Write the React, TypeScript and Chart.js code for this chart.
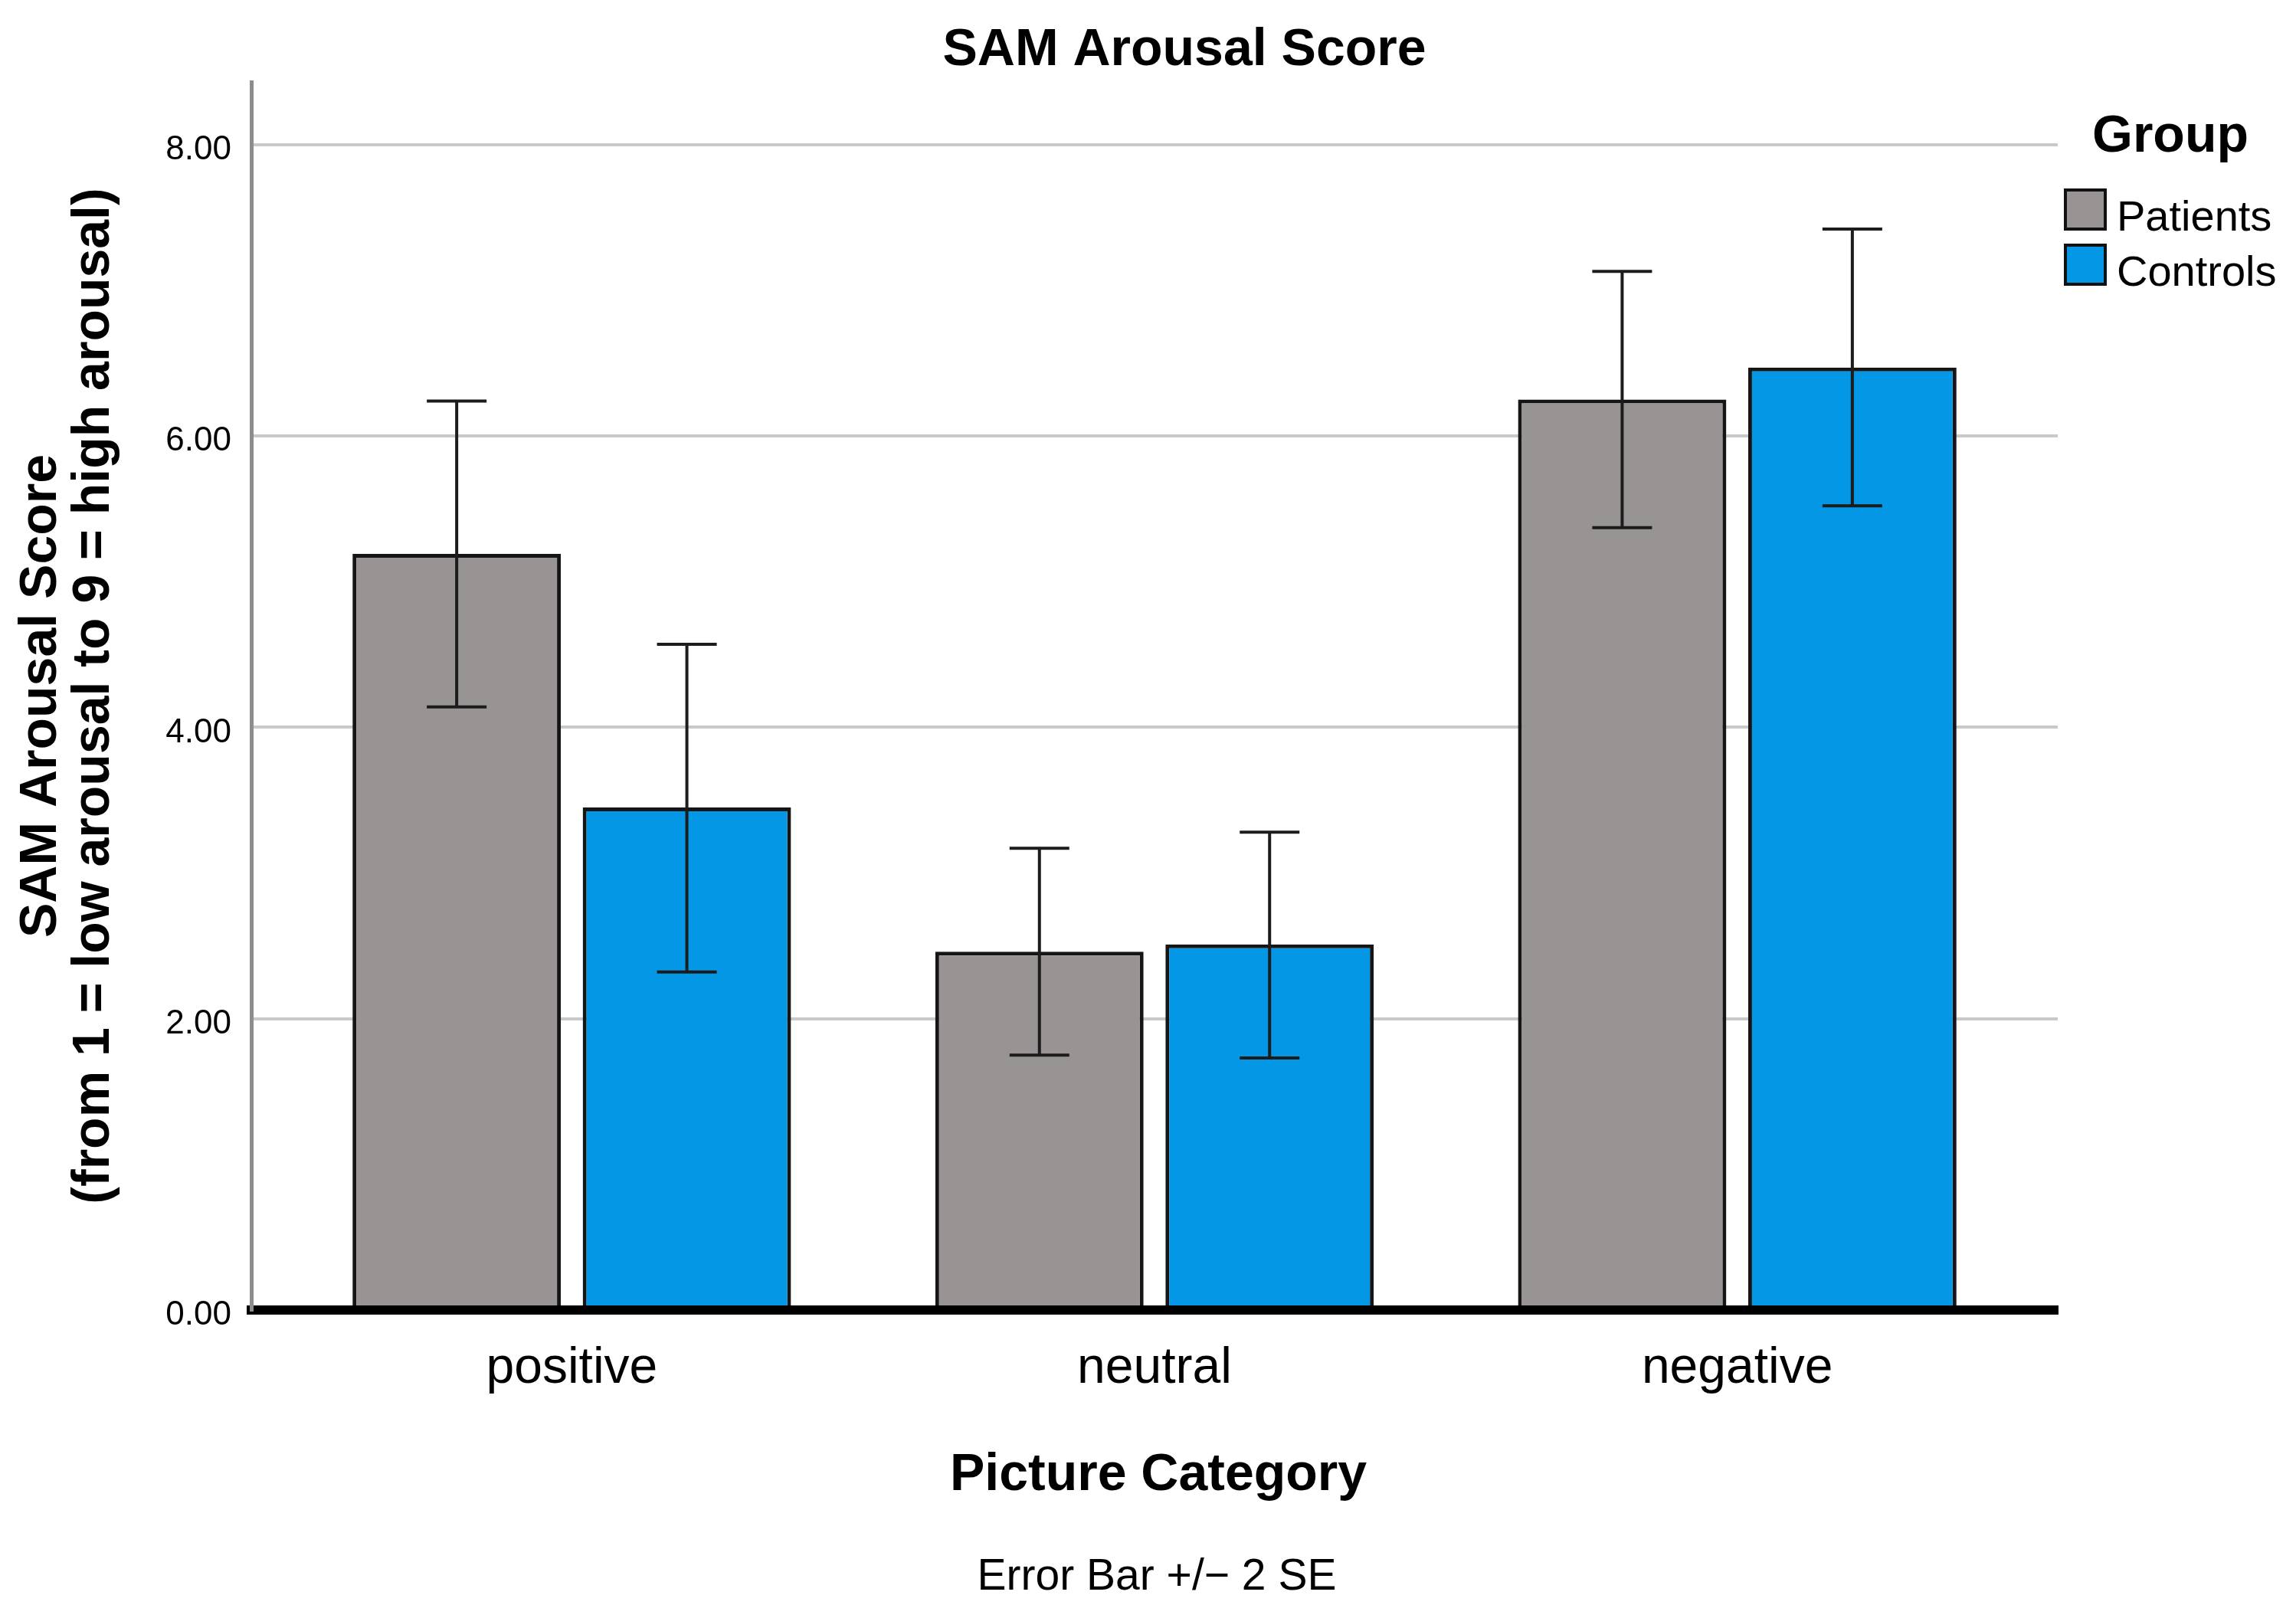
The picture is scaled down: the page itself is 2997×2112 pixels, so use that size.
import React, { useEffect, useRef } from 'react';
import { Chart, registerables } from 'chart.js';

Chart.register(...registerables);

// ---- data ----
const categories = ['positive', 'neutral', 'negative'];
const groups = ['Patients', 'Controls'];
const patientsMean = [5.19, 2.46, 6.25];
const patientsLow = [4.14, 1.75, 5.37];
const patientsHigh = [6.24, 3.17, 7.13];
const controlsMean = [3.45, 2.51, 6.47];
const controlsLow = [2.32, 1.73, 5.52];
const controlsHigh = [4.57, 3.28, 7.42];
const yTicks = [0, 2, 4, 6, 8];

const chartTitle = 'SAM Arousal Score';
const yTitleLines = ['SAM Arousal Score', '(from 1 = low arousal to 9 = high arousal)'];
const xTitle = 'Picture Category';
const footnote = 'Error Bar +/\u2212 2 SE';
const legendTitle = 'Group';

const FF = "Arial, 'Liberation Sans', Helvetica, sans-serif";
const W = 2997;
const H = 2112;

const errorLows = [patientsLow, controlsLow];
const errorHighs = [patientsHigh, controlsHigh];

const errorBarPlugin = {
  id: 'errorBars',
  afterDatasetsDraw(chart: any) {
    const ctx = chart.ctx;
    const yScale = chart.scales.y;
    ctx.save();
    ctx.strokeStyle = '#1c1c1c';
    ctx.lineWidth = 4;
    chart.data.datasets.forEach((ds: any, di: number) => {
      const meta = chart.getDatasetMeta(di);
      meta.data.forEach((bar: any, i: number) => {
        const x = bar.x;
        const yl = yScale.getPixelForValue(errorLows[di][i]);
        const yh = yScale.getPixelForValue(errorHighs[di][i]);
        const cap = 39;
        ctx.beginPath();
        ctx.moveTo(x, yl);
        ctx.lineTo(x, yh);
        ctx.moveTo(x - cap, yh);
        ctx.lineTo(x + cap, yh);
        ctx.moveTo(x - cap, yl);
        ctx.lineTo(x + cap, yl);
        ctx.stroke();
      });
    });
    ctx.restore();
  },
};

const textPlugin = {
  id: 'outerTexts',
  afterDraw(chart: any) {
    const ctx = chart.ctx;
    const area = chart.chartArea;
    ctx.save();
    ctx.fillStyle = '#000';
    ctx.textBaseline = 'alphabetic';

    // chart title
    ctx.font = `bold 68px ${FF}`;
    ctx.textAlign = 'center';
    ctx.fillText(chartTitle, 1546, 85);

    // x axis title & footnote
    ctx.font = `bold 68px ${FF}`;
    ctx.fillText(xTitle, 1512, 1945);
    ctx.font = `57px ${FF}`;
    ctx.fillText(footnote, 1510, 2075);

    // y axis title (rotated)
    const cy = (area.top + area.bottom) / 2;
    ctx.save();
    ctx.translate(73, cy);
    ctx.rotate(-Math.PI / 2);
    ctx.font = `bold 68px ${FF}`;
    ctx.fillText(yTitleLines[0], 0, 0);
    ctx.restore();
    ctx.save();
    ctx.translate(142, cy);
    ctx.rotate(-Math.PI / 2);
    ctx.font = `bold 68px ${FF}`;
    ctx.fillText(yTitleLines[1], 0, 0);
    ctx.restore();

    // legend
    ctx.font = `bold 68px ${FF}`;
    ctx.textAlign = 'center';
    ctx.fillText(legendTitle, 2833, 198);
    ctx.textAlign = 'left';
    ctx.font = `56px ${FF}`;
    chart.data.datasets.forEach((ds: any, i: number) => {
      const top = 246 + i * 72;
      ctx.fillStyle = ds.backgroundColor;
      ctx.fillRect(2694, top, 56, 55);
      ctx.strokeStyle = '#111';
      ctx.lineWidth = 4;
      ctx.strokeRect(2696, top + 2, 52, 51);
      ctx.fillStyle = '#000';
      ctx.fillText(ds.label, 2763, top + 55);
    });
    ctx.restore();
  },
};

export default function App() {
  const canvasRef = useRef<HTMLCanvasElement | null>(null);

  useEffect(() => {
    const canvas = canvasRef.current;
    if (!canvas) return;
    const colors = ['#999494', '#0397E6'];
    const means = [patientsMean, controlsMean];
    const chart = new Chart(canvas, {
      type: 'bar',
      data: {
        datasets: groups.map((g, gi) => ({
          label: g,
          data: categories.map((_, i) => ({ x: i, y: means[gi][i] })),
          backgroundColor: colors[gi],
          borderColor: '#151515',
          borderWidth: 5,
          categoryPercentage: 0.79,
          barPercentage: 0.905,
        })),
      },
      options: {
        responsive: false,
        devicePixelRatio: 1,
        animation: false,
        layout: { padding: { top: 107, right: 311, left: 0, bottom: 0 } },
        plugins: {
          legend: { display: false },
          title: { display: false },
          tooltip: { enabled: false },
        },
        scales: {
          x: {
            type: 'linear',
            min: -0.55,
            max: 2.55,
            offset: false,
            bounds: 'data',
            afterBuildTicks: (scale: any) => {
              scale.ticks = categories.map((_, i) => ({ value: i }));
            },
            afterFit: (scale: any) => {
              scale.height = H - 1710;
            },
            grid: { display: false, offset: false, drawTicks: false, tickLength: 0 },
            border: { display: true, color: '#000', width: 12, z: 1 },
            ticks: {
              callback: (v: any) => categories[v] ?? '',
              font: { family: FF, size: 66 },
              color: '#000',
              padding: 37,
              maxRotation: 0,
              autoSkip: false,
            },
          },
          y: {
            type: 'linear',
            min: 0,
            max: 8.43,
            afterBuildTicks: (scale: any) => {
              scale.ticks = yTicks.map((v) => ({ value: v }));
            },
            afterFit: (scale: any) => {
              scale.width = 328;
            },
            grid: { color: '#c9c9c9', lineWidth: 4, drawTicks: false, tickLength: 0 },
            border: { display: true, color: '#8c8c8c', width: 5, z: 1 },
            ticks: {
              callback: (v: any) => Number(v).toFixed(2),
              font: { family: FF, size: 44 },
              color: '#000',
              padding: 26,
              labelOffset: 7,
            },
          },
        },
      },
      plugins: [errorBarPlugin, textPlugin],
    } as any);
    return () => chart.destroy();
  }, []);

  return (
    <div style={{ position: 'fixed', left: 0, top: 0, width: W, height: H, background: '#fff' }}>
      <canvas ref={canvasRef} width={W} height={H} style={{ display: 'block' }} />
    </div>
  );
}
